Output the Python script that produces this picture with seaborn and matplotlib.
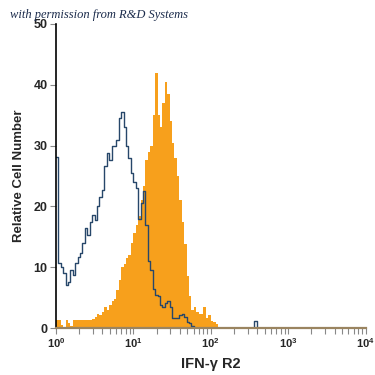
import numpy as np
import pandas as pd
import matplotlib
matplotlib.use("Agg")
import matplotlib.pyplot as plt
import seaborn as sns

sns.set_style("white")
plt.rcParams['font.family'] = ['Liberation Sans', 'DejaVu Sans']
plt.rcParams['mathtext.fontset'] = 'custom'
plt.rcParams['mathtext.rm'] = 'Liberation Sans:bold'
plt.rcParams['mathtext.bf'] = 'Liberation Sans:bold'

# 128 channels, 32 per decade, from 10^0 to 10^4
N_CHANNELS = 128
PER_DECADE = 32

# isotype control (open blue outline)
isotype_counts = [
    28.1, 10.7, 10.0, 9.0, 7.1, 7.6, 9.5, 8.8, 10.7, 11.7,
    12.3, 14.0, 16.4, 15.3, 17.5, 18.6, 17.8, 20.0, 21.6, 22.7,
    26.6, 28.8, 27.7, 29.9, 29.9, 31.0, 34.5, 35.5, 33.0, 30.0,
    28.0, 25.5, 24.0, 23.0, 18.0, 20.5, 22.5, 17.0, 11.0, 9.5,
    6.5, 5.5, 5.3, 3.8, 3.5, 4.2, 4.4, 3.5, 1.6, 1.6,
    1.6, 2.2, 2.4, 1.8, 1.0, 0.8, 0.3,
]
isotype_counts += [0.0] * (82 - len(isotype_counts)) + [1.2]
isotype_counts += [0.0] * (N_CHANNELS - len(isotype_counts))

# IFN-gamma R2 antibody (filled orange)
stained_counts = [
    1.3, 1.3, 0.5, 0.2, 1.4, 0.8, 0.3, 1.3, 1.3, 1.4,
    1.4, 1.4, 1.4, 1.4, 1.4, 1.5, 1.9, 2.4, 2.2, 2.6,
    3.5, 3.0, 3.8, 4.4, 4.8, 6.3, 7.9, 10.1, 10.5, 11.5,
    12.0, 14.0, 15.6, 17.0, 18.4, 21.0, 23.3, 27.7, 29.0, 30.0,
    35.0, 42.0, 35.0, 33.0, 37.0, 40.5, 38.5, 34.0, 30.5, 28.0,
    25.0, 21.0, 17.5, 13.9, 8.5, 5.2, 3.0, 3.5, 2.7, 2.4,
    2.4, 3.5, 1.6, 2.1, 1.2, 1.0, 0.6,
]
stained_counts += [0.2] * (N_CHANNELS - len(stained_counts))

channel_pos = 10 ** ((np.arange(N_CHANNELS) + 0.5) / PER_DECADE)
df = pd.DataFrame({
    "fluor": np.concatenate([channel_pos, channel_pos]),
    "count": isotype_counts + stained_counts,
    "sample": ["isotype"] * N_CHANNELS + ["stained"] * N_CHANNELS,
})

fig = plt.figure(figsize=(3.75, 3.75), dpi=100)
ax = fig.add_axes([0.149, 0.125, 0.826, 0.811])

sns.histplot(data=df[df["sample"] == "stained"], x="fluor", weights="count",
             bins=N_CHANNELS, binrange=(0, 4), log_scale=True, element="step",
             fill=True, color="#f7a01c", alpha=1, linewidth=0, ax=ax)
sns.histplot(data=df[df["sample"] == "isotype"], x="fluor", weights="count",
             bins=N_CHANNELS, binrange=(0, 4), log_scale=True, element="step",
             fill=False, color="#27476a", linewidth=1.0, ax=ax)

ax.set_xlim(1, 1e4)
ax.set_ylim(0, 50)
ax.set_yticks([0, 10, 20, 30, 40, 50])
ax.set_xticks([1, 10, 100, 1000, 10000])
ax.set_xticklabels([r'$\mathbf{10^{%d}}$' % i for i in range(5)])

for s in ["top", "right"]:
    ax.spines[s].set_visible(False)
ax.spines["left"].set_color("black")
ax.spines["left"].set_linewidth(1.2)
ax.spines["bottom"].set_color("#9a8460")
ax.spines["bottom"].set_linewidth(1.6)

ax.tick_params(axis="both", which="both", direction="out", length=4,
               width=0.8, color="#888888", labelsize=8, pad=2)
ax.tick_params(axis="y", labelsize=9)
ax.tick_params(axis="x", which="minor", length=4, bottom=True)
ax.tick_params(axis="y", left=True)
ax.tick_params(axis="x", bottom=True)
for lab in ax.get_yticklabels():
    lab.set_fontweight("bold")

ax.set_xlabel("IFN-γ R2", fontsize=10.5, fontweight="bold", labelpad=5)
ax.set_ylabel("Relative Cell Number", fontsize=9.5, fontweight="bold", labelpad=6)

fig.text(0.027, 0.953, "with permission from R&D Systems", fontsize=9,
         family=["Liberation Serif", "DejaVu Serif"], style="italic", color="#1c2c4c")

fig.savefig("out.png", dpi=100)
